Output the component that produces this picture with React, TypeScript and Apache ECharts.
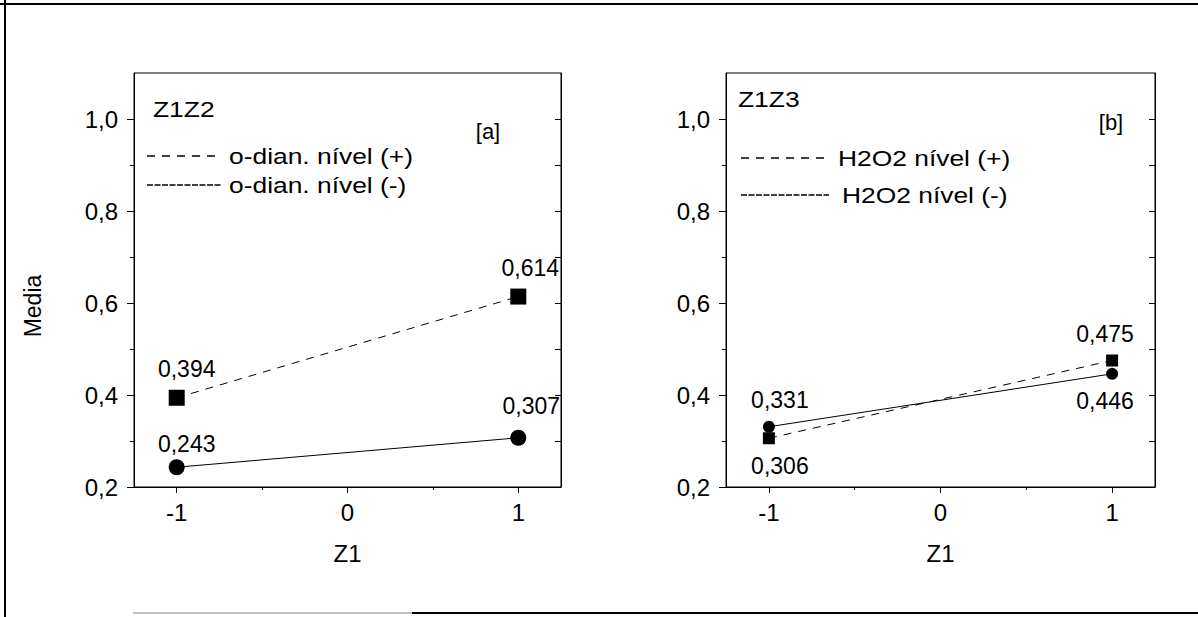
import React, { useEffect, useRef } from "react";
import * as echarts from "echarts";

// ---- data ----
const xLevels = [-1, 1];
const panelTitles = ["Z1Z2", "Z1Z3"];
const panelTags = ["[a]", "[b]"];
const plusNames = ["o-dian. nível (+)", "H2O2 nível (+)"];
const minusNames = ["o-dian. nível (-)", "H2O2 nível (-)"];
const plusValues = [
  [0.394, 0.614],
  [0.306, 0.475],
];
const minusValues = [
  [0.243, 0.307],
  [0.331, 0.446],
];
const yMajorTicks = [0.2, 0.4, 0.6, 0.8, 1.0];
const yMinorTicks = [0.3, 0.5, 0.7, 0.9];
const yRightTicks = [0.3, 0.4, 0.5, 0.6, 0.7, 0.8, 0.9, 1.0];
const xMajorTicks = [-1, 0, 1];
const xMinorTicks = [-0.5, 0.5];
const xAxisName = "Z1";
const yAxisName = "Media";

// ---- layout ----
const FONT = "'Liberation Sans', Arial, Helvetica, sans-serif";
const grids = [
  { left: 134, top: 73, width: 427, height: 414 },
  { left: 726, top: 73, width: 429, height: 414 },
];
const markerSizes = [16, 12];
const plusLabelOffsets = [
  [[10, -29], [12, -29]],
  [[11, 28], [-7, -27]],
];
const minusLabelOffsets = [
  [[10, -23], [13, -32]],
  [[11, -27], [-7, 27]],
];
const legendPos = [
  { x1: 147, x2: 222, y1: 156, y2: 185, tx1: 229, tx2: 229 },
  { x1: 741, x2: 829, y1: 158, y2: 195, tx1: 838, tx2: 842 },
];
const titlePos = [
  { x: 153, y: 109 },
  { x: 738, y: 99 },
];
const tagPos = [
  { x: 488, y: 131 },
  { x: 1111, y: 122 },
];

const fmt = (v: number) => v.toFixed(1).replace(".", ",");
const fmt3 = (v: number) => v.toFixed(3).replace(".", ",");

export default function App() {
  const ref = useRef<HTMLDivElement>(null);
  useEffect(() => {
    if (!ref.current) return;
    const chart = echarts.init(ref.current, undefined, { renderer: "svg" });

    const xAxes: any[] = [];
    const yAxes: any[] = [];
    const series: any[] = [];
    const graphics: any[] = [];

    grids.forEach((g, p) => {
      xAxes.push({
        type: "value",
        gridIndex: p,
        min: -1.25,
        max: 1.25,
        position: "bottom",
        axisLine: { show: true, onZero: false, lineStyle: { color: "#000", width: 1 } },
        axisTick: { show: true, customValues: xMajorTicks, length: 6, inside: false, lineStyle: { color: "#000" } },
        axisLabel: {
          show: true,
          customValues: xMajorTicks,
          formatter: (v: number) => String(v),
          fontSize: 24,
          fontFamily: FONT,
          color: "#000",
          margin: 13,
        },
        splitLine: { show: false },
        name: xAxisName,
        nameLocation: "middle",
        nameGap: 54,
        nameTextStyle: { fontSize: 24, fontFamily: FONT, color: "#000" },
      });
      xAxes.push({
        type: "value",
        gridIndex: p,
        min: -1.25,
        max: 1.25,
        position: "bottom",
        axisLine: { show: false, onZero: false },
        axisTick: { show: true, customValues: xMinorTicks, length: 3, inside: false, lineStyle: { color: "#000" } },
        axisLabel: { show: false },
        splitLine: { show: false },
      });
      yAxes.push({
        type: "value",
        gridIndex: p,
        min: 0.2,
        max: 1.1,
        position: "left",
        axisLine: { show: true, onZero: false, lineStyle: { color: "#000", width: 1 } },
        axisTick: { show: true, customValues: yMajorTicks, length: 7, inside: false, lineStyle: { color: "#000" } },
        axisLabel: {
          show: true,
          customValues: yMajorTicks,
          formatter: fmt,
          fontSize: 24,
          fontFamily: FONT,
          color: "#000",
          margin: 16,
        },
        splitLine: { show: false },
        name: p === 0 ? yAxisName : "",
        nameLocation: "middle",
        nameGap: 90,
        nameRotate: 90,
        nameTextStyle: { fontSize: 23, fontFamily: FONT, color: "#000", padding: [0, 52, 0, 0] },
      });
      yAxes.push({
        type: "value",
        gridIndex: p,
        min: 0.2,
        max: 1.1,
        position: "left",
        axisLine: { show: false, onZero: false },
        axisTick: { show: true, customValues: yMinorTicks, length: 4, inside: false, lineStyle: { color: "#000" } },
        axisLabel: { show: false },
        splitLine: { show: false },
      });
      yAxes.push({
        type: "value",
        gridIndex: p,
        min: 0.2,
        max: 1.1,
        position: "right",
        axisLine: { show: true, onZero: false, lineStyle: { color: "#000", width: 1 } },
        axisTick: { show: true, customValues: yRightTicks, length: 6, inside: true, lineStyle: { color: "#000" } },
        axisLabel: { show: false },
        splitLine: { show: false },
      });

      const labelBase = {
        show: true,
        position: "inside",
        align: "center",
        verticalAlign: "middle",
        fontSize: 23,
        fontFamily: FONT,
        color: "#000",
        formatter: (prm: any) => fmt3(prm.value[1]),
      };

      series.push({
        type: "line",
        name: plusNames[p],
        xAxisIndex: 2 * p,
        yAxisIndex: 3 * p,
        symbol: "rect",
        symbolSize: markerSizes[p],
        itemStyle: { color: "#000" },
        lineStyle: { color: "#000", width: 1, type: [8, 7] },
        clip: false,
        data: xLevels.map((x, i) => ({
          value: [x, plusValues[p][i]],
          label: { ...labelBase, offset: plusLabelOffsets[p][i] },
        })),
        z: 3,
      });
      series.push({
        type: "line",
        name: minusNames[p],
        xAxisIndex: 2 * p,
        yAxisIndex: 3 * p,
        symbol: "circle",
        symbolSize: markerSizes[p],
        itemStyle: { color: "#000" },
        lineStyle: { color: "#000", width: 1, type: "solid" },
        clip: false,
        data: xLevels.map((x, i) => ({
          value: [x, minusValues[p][i]],
          label: { ...labelBase, offset: minusLabelOffsets[p][i] },
        })),
        z: 3,
      });

      const lp = legendPos[p];
      graphics.push(
        {
          type: "line",
          shape: { x1: lp.x1, y1: lp.y1, x2: lp.x2, y2: lp.y1 },
          style: { stroke: "#000", lineWidth: 1.5, lineDash: [8, 7] },
        },
        {
          type: "text",
          x: lp.tx1,
          y: lp.y1,
          scaleX: 1.2,
          style: { text: plusNames[p], font: `22px ${FONT}`, fill: "#000", verticalAlign: "middle", align: "left" },
        },
        {
          type: "line",
          shape: { x1: lp.x1, y1: lp.y2, x2: lp.x2, y2: lp.y2 },
          style: { stroke: "#000", lineWidth: 1.5, lineDash: [6, 1.5] },
        },
        {
          type: "text",
          x: lp.tx2,
          y: lp.y2,
          scaleX: 1.2,
          style: { text: minusNames[p], font: `22px ${FONT}`, fill: "#000", verticalAlign: "middle", align: "left" },
        },
        {
          type: "text",
          x: titlePos[p].x,
          y: titlePos[p].y,
          scaleX: 1.2,
          style: { text: panelTitles[p], font: `22px ${FONT}`, fill: "#000", verticalAlign: "middle", align: "left" },
        },
        {
          type: "text",
          x: tagPos[p].x,
          y: tagPos[p].y,
          style: { text: panelTags[p], font: `22px ${FONT}`, fill: "#000", verticalAlign: "middle", align: "center" },
        }
      );
    });

    graphics.push(
      { type: "line", shape: { x1: 5, y1: 0, x2: 5, y2: 617 }, style: { stroke: "#000", lineWidth: 2 } },
      { type: "line", shape: { x1: 0, y1: 4, x2: 1198, y2: 4 }, style: { stroke: "#000", lineWidth: 2 } },
      { type: "line", shape: { x1: 133, y1: 613, x2: 412, y2: 613 }, style: { stroke: "#aaa", lineWidth: 1.5 } },
      { type: "line", shape: { x1: 412, y1: 613, x2: 1198, y2: 613 }, style: { stroke: "#000", lineWidth: 2 } }
    );

    chart.setOption({
      animation: false,
      backgroundColor: "#fff",
      grid: grids.map((g) => ({ ...g, show: true, borderColor: "#000", borderWidth: 1, backgroundColor: "transparent" })),
      xAxis: xAxes,
      yAxis: yAxes,
      series,
      graphic: graphics,
    });
    return () => chart.dispose();
  }, []);

  return (
    <div
      ref={ref}
      style={{ position: "fixed", left: 0, top: 0, width: 1198, height: 617, background: "#fff" }}
    />
  );
}
